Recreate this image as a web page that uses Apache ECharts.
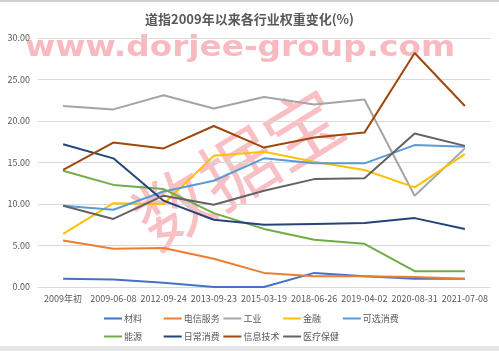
<!DOCTYPE html>
<html>
<head>
<meta charset="utf-8">
<script src="https://cdn.jsdelivr.net/npm/echarts@6/dist/echarts.min.js"></script>
<style>
  html, body { margin: 0; padding: 0; background: #fff; }
  #chart { width: 499px; height: 351px; }
</style>
</head>
<body>
<div id="chart"></div>
<script>
const dates = ['2009年初', '2009-06-08', '2012-09-24', '2013-09-23', '2015-03-19', '2018-06-26', '2019-04-02', '2020-08-31', '2021-07-08']
const yTicks = [0, 5, 10, 15, 20, 25, 30]

const materials = [1.0, 0.9, 0.5, 0.0, 0.0, 1.7, 1.3, 1.0, 1.0]
const telecom = [5.6, 4.6, 4.7, 3.4, 1.7, 1.3, 1.3, 1.2, 1.0]
const industrial = [21.8, 21.4, 23.1, 21.5, 22.9, 22.0, 22.6, 11.0, 16.7]
const financial = [6.4, 10.1, 10.0, 15.8, 16.3, 15.1, 14.1, 12.0, 16.0]
const discretionary = [9.8, 9.3, 11.5, 12.8, 15.5, 14.9, 14.9, 17.1, 16.9]
const energy = [14.0, 12.3, 11.8, 8.9, 7.0, 5.7, 5.2, 1.9, 1.9]
const staples = [17.2, 15.5, 10.4, 8.1, 7.5, 7.6, 7.7, 8.3, 7.0]
const tech = [14.1, 17.4, 16.7, 19.4, 16.8, 18.0, 18.6, 28.2, 21.8]
const health = [9.8, 8.2, 11.0, 9.9, 11.6, 13.0, 13.1, 18.5, 17.0]

const seriesList = [
  { name: '材料', data: materials, color: '#4472C4' },
  { name: '电信服务', data: telecom, color: '#ED7D31' },
  { name: '工业', data: industrial, color: '#A5A5A5' },
  { name: '金融', data: financial, color: '#FFC000' },
  { name: '可选消费', data: discretionary, color: '#5B9BD5' },
  { name: '能源', data: energy, color: '#70AD47' },
  { name: '日常消费', data: staples, color: '#264478' },
  { name: '信息技术', data: tech, color: '#9E480E' },
  { name: '医疗保健', data: health, color: '#636363' }
]

// excel puts legend entries in fixed columns, 5 per row
const legends = seriesList.map((s, i) => ({
  left: 104 + (i % 5) * 59.7,
  top: i < 5 ? 314 : 332,
  itemWidth: 18,
  itemHeight: 2,
  itemGap: 0,
  icon: 'rect',
  padding: 0,
  textStyle: { fontSize: 9, color: '#595959', padding: [0, 0, 0, -3] },
  data: [s.name]
}))

const chart = echarts.init(document.getElementById('chart'))
chart.setOption({
  animation: false,
  backgroundColor: '#fff',
  textStyle: { fontFamily: 'Noto Sans CJK SC' },
  title: {
    text: '道指2009年以来各行业权重变化(%)',
    left: 'center',
    top: 8,
    textStyle: { fontSize: 13, fontWeight: 'bold', color: '#595959' }
  },
  color: seriesList.map(s => s.color),
  legend: legends,
  grid: { left: 38, right: 9, top: 38, bottom: 64 },
  xAxis: {
    type: 'category',
    data: dates,
    axisTick: { show: false },
    axisLine: { lineStyle: { color: '#D9D9D9' } },
    axisLabel: { fontSize: 9, color: '#595959', margin: 7, interval: 0 }
  },
  yAxis: {
    type: 'value',
    min: yTicks[0],
    max: yTicks[yTicks.length - 1],
    interval: 5,
    axisLabel: { fontSize: 9, color: '#595959', formatter: v => v.toFixed(2), margin: 8 },
    splitLine: { lineStyle: { color: '#D9D9D9' } }
  },
  graphic: [
    { type: 'rect', left: 0, top: 0, shape: { width: 499, height: 2 }, style: { fill: '#D0D0D0' } },
    { type: 'rect', left: 0, top: 346, shape: { width: 499, height: 5 }, style: { fill: '#E6E6E6' } },
    {
      type: 'text', x: 25, y: 34, scaleX: 1.13, z: 0,
      style: { text: 'www.dorjee-group.com', font: 'bold 29px "DejaVu Sans"', fill: 'rgba(242,130,140,0.55)' }
    },
    {
      type: 'text', x: 238, y: 168, rotation: 0.55, z: 0,
      style: { text: '数据宝', font: '76px "Noto Sans CJK SC"', fill: 'rgba(242,130,140,0.5)', align: 'center', verticalAlign: 'middle' }
    }
  ],
  series: seriesList.map(s => ({
    name: s.name,
    type: 'line',
    data: s.data,
    symbol: 'none',
    z: 5,
    lineStyle: { width: 2, color: s.color },
    itemStyle: { color: s.color }
  }))
})
</script>
</body>
</html>
